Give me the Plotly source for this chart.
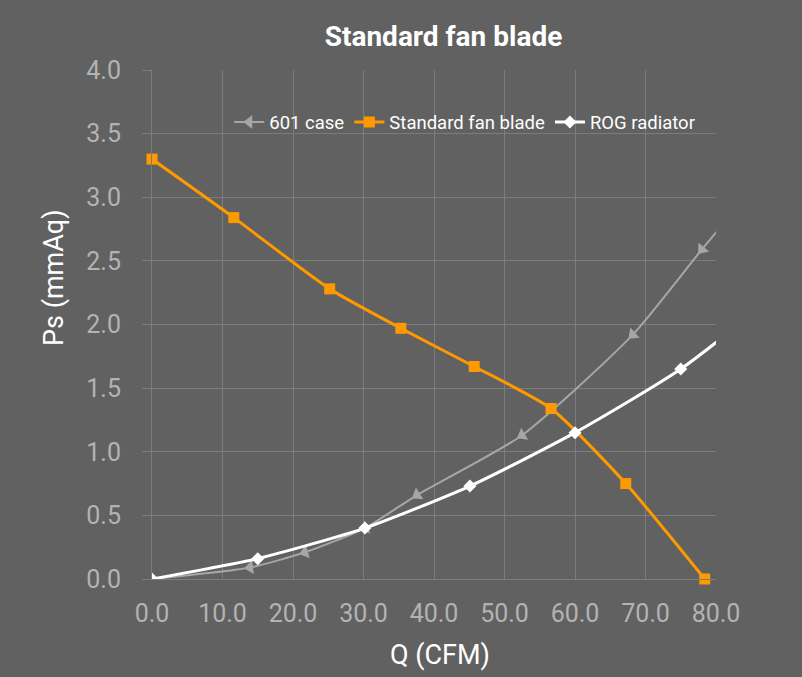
import plotly.graph_objects as go

# Data
case_q = [0, 13.9, 21.7, 30.2, 37.6, 52.5, 68.2, 78.0, 84.0]
case_ps = [0, 0.09, 0.21, 0.40, 0.66, 1.13, 1.92, 2.59, 2.99]

fan_q = [0, 11.6, 25.2, 35.3, 45.7, 56.6, 67.2, 78.4]
fan_ps = [3.30, 2.84, 2.28, 1.97, 1.67, 1.34, 0.75, 0.0]

rog_q = [0, 15.0, 30.2, 45.1, 60.0, 75.0, 90.0]
rog_ps = [0, 0.16, 0.40, 0.73, 1.15, 1.65, 2.30]

BG = "#616161"
GRID = "#7c7c7c"
TICK = "#b3b3b3"
FONT = "Roboto"

fig = go.Figure()
fig.add_trace(go.Scatter(
    x=case_q, y=case_ps, name="601 case", mode="lines+markers",
    line=dict(color="#a6a6a6", width=2, shape="spline", smoothing=0.6),
    marker=dict(symbol="triangle-down", size=12, color="#a6a6a6", angleref="previous"),
    cliponaxis=True,
))
fig.add_trace(go.Scatter(
    x=fan_q, y=fan_ps, name="Standard fan blade", mode="lines+markers",
    line=dict(color="#ff9900", width=3, shape="spline", smoothing=0.6),
    marker=dict(symbol="square", size=11, color="#ff9900"),
    cliponaxis=False,
))
fig.add_trace(go.Scatter(
    x=rog_q, y=rog_ps, name="ROG radiator", mode="lines+markers",
    line=dict(color="#ffffff", width=3, shape="spline", smoothing=0.6),
    marker=dict(symbol="diamond", size=10, color="#ffffff"),
    cliponaxis=True,
))

fig.update_layout(
    width=802, height=677,
    paper_bgcolor=BG, plot_bgcolor=BG,
    margin=dict(l=152, r=86, t=70, b=98),
    font=dict(family=FONT, color="#ffffff"),
    title=dict(text="<b>Standard fan blade</b>", x=0.553, xanchor="center",
               y=0.947, yanchor="middle", font=dict(size=28, color="#ffffff", family=FONT)),
    legend=dict(orientation="h", x=0.137, xanchor="left", y=0.897, yanchor="middle",
                bgcolor="rgba(0,0,0,0)", font=dict(size=18.5, color="#ffffff", family=FONT),
                itemwidth=30, tracegroupgap=0),
    showlegend=True,
    annotations=[
        dict(text="Ps (mmAq)", xref="paper", yref="paper", x=-0.174, y=0.593,
             xanchor="center", yanchor="middle", textangle=-90, showarrow=False,
             font=dict(size=27, color="#ffffff", family=FONT)),
        dict(text="Q (CFM)", xref="paper", yref="paper", x=0.5106, y=-0.149,
             xanchor="center", yanchor="middle", showarrow=False,
             font=dict(size=27, color="#ffffff", family=FONT)),
    ],
)
fig.update_xaxes(
    range=[0, 80], dtick=10, tick0=0, tickformat=".1f",
    showgrid=True, gridcolor=GRID, gridwidth=1,
    showline=True, linecolor=GRID, zeroline=False,
    tickfont=dict(size=25, color=TICK, family=FONT),
    ticks="", ticklen=0, ticklabelstandoff=12,
)
fig.update_yaxes(
    range=[0, 4], dtick=0.5, tick0=0, tickformat=".1f",
    showgrid=True, gridcolor=GRID, gridwidth=1,
    showline=True, linecolor=GRID, zeroline=False,
    tickfont=dict(size=25, color=TICK, family=FONT),
    ticks="outside", ticklen=9, tickcolor=GRID, ticklabelstandoff=16,
)

fig.write_html("out.html")
